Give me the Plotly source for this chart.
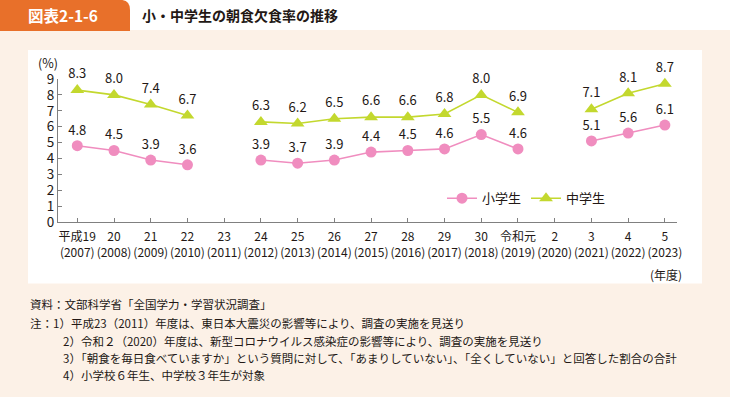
import plotly.graph_objects as go

categories = ["平成19<br>(2007)", "20<br>(2008)", "21<br>(2009)", "22<br>(2010)", "23<br>(2011)",
              "24<br>(2012)", "25<br>(2013)", "26<br>(2014)", "27<br>(2015)", "28<br>(2016)",
              "29<br>(2017)", "30<br>(2018)", "令和元<br>(2019)", "2<br>(2020)", "3<br>(2021)",
              "4<br>(2022)", "5<br>(2023)"]
elementary = [4.8, 4.5, 3.9, 3.6, None, 3.9, 3.7, 3.9, 4.4, 4.5, 4.6, 5.5, 4.6, None, 5.1, 5.6, 6.1]
junior = [8.3, 8.0, 7.4, 6.7, None, 6.3, 6.2, 6.5, 6.6, 6.6, 6.8, 8.0, 6.9, None, 7.1, 8.1, 8.7]
y_ticks = list(range(0, 10))

notes = [
    "資料：文部科学省「全国学力・学習状況調査」",
    "注：1）平成23（2011）年度は、東日本大震災の影響等により、調査の実施を見送り",
    "2）令和２（2020）年度は、新型コロナウイルス感染症の影響等により、調査の実施を見送り",
    "3）「朝食を毎日食べていますか」という質問に対して、「あまりしていない」、「全くしていない」と回答した割合の合計",
    "4）小学校６年生、中学校３年生が対象",
]

FONT = "Noto Sans CJK JP"
TXT = "#231815"
PINK = "#f08dbf"
GREEN = "#c3d82e"
ORANGE = "#e8702a"
BEIGE = "#fcf1e7"

W, H = 730, 397
L, R = 58, 677
T, B = 79, 221.7
pw, ph = R - L, B - T

def px(x):
    return (x - L) / pw

def py(y):
    return (B - y) / ph

xs = list(range(len(categories)))

def lbl(v):
    return None if v is None else f"{v:.1f}"

fig = go.Figure()
fig.add_trace(go.Scatter(
    x=xs, y=elementary, name="小学生", mode="lines+markers+text",
    text=[lbl(v) for v in elementary], textposition="top center", cliponaxis=False,
    textfont=dict(size=13, color=TXT, family=FONT),
    line=dict(color=PINK, width=1.6), connectgaps=False,
    marker=dict(symbol="circle", size=11, color=PINK),
))
fig.add_trace(go.Scatter(
    x=xs, y=junior, name="中学生", mode="lines+markers+text",
    text=[lbl(v) for v in junior], textposition="top center", cliponaxis=False,
    textfont=dict(size=13, color=TXT, family=FONT),
    line=dict(color=GREEN, width=1.6), connectgaps=False,
    marker=dict(symbol="triangle-up", size=12, color=GREEN),
))

shapes = [
    dict(type="rect", xref="paper", yref="paper", x0=px(28), x1=px(702), y0=py(283), y1=py(50),
         fillcolor="white", line=dict(width=0), layer="below"),
    dict(type="rect", xref="paper", yref="paper", x0=px(0), x1=px(730), y0=py(30), y1=py(0),
         fillcolor="white", line=dict(width=0), layer="below"),
]
rx, ry = 10 / pw, 10 / ph
x0t, x1t, y0t, y1t = px(0), px(130), py(31), py(0)
path = (f"M {x0t},{y0t} L {x0t},{y1t} L {x1t - rx},{y1t} "
        f"Q {x1t},{y1t} {x1t},{y1t - ry} L {x1t},{y0t} Z")
shapes.append(dict(type="path", xref="paper", yref="paper", path=path,
                   fillcolor=ORANGE, line=dict(width=0), layer="below"))

annotations = [
    dict(text="<b>図表2-1-6</b>", x=px(63), y=py(15), xref="paper", yref="paper",
         showarrow=False, font=dict(size=15.5, color="white", family=FONT), xanchor="center", yanchor="middle"),
    dict(text="<b>小・中学生の朝食欠食率の推移</b>", x=px(140), y=py(15), xref="paper", yref="paper",
         showarrow=False, font=dict(size=14, color=TXT, family=FONT), xanchor="left", yanchor="middle"),
    dict(text="(%)", x=px(48), y=py(63), xref="paper", yref="paper",
         showarrow=False, font=dict(size=12.5, color=TXT, family=FONT), xanchor="center", yanchor="middle"),
    dict(text="(年度)", x=px(666), y=py(274), xref="paper", yref="paper",
         showarrow=False, font=dict(size=12, color=TXT, family=FONT), xanchor="center", yanchor="middle"),
]
note_pos = [(28, 304), (28, 322), (61, 340), (61, 357), (61, 374)]
for (nx, ny), t in zip(note_pos, notes):
    annotations.append(dict(text=t, x=px(nx), y=py(ny), xref="paper", yref="paper",
                            showarrow=False, font=dict(size=11.5, color=TXT, family=FONT),
                            xanchor="left", yanchor="middle"))

fig.update_layout(
    width=W, height=H,
    margin=dict(l=L, r=W - R, t=T, b=H - B, pad=0),
    paper_bgcolor=BEIGE, plot_bgcolor="white",
    font=dict(family=FONT, color=TXT),
    showlegend=True,
    legend=dict(orientation="h", x=px(442), y=py(198), xanchor="left", yanchor="middle",
                bgcolor="rgba(0,0,0,0)", font=dict(size=13, color=TXT, family=FONT),
                itemwidth=30, traceorder="normal"),
    shapes=shapes, annotations=annotations,
    xaxis=dict(range=[-0.525, 16.33], tickvals=xs, ticktext=categories, showgrid=False,
               zeroline=False, showline=True, linecolor="#808080", linewidth=1,
               ticks="inside", ticklen=4, tickcolor="#808080", tickangle=0, automargin=False,
               ticklabelstandoff=4,
               tickfont=dict(size=12, color=TXT, family=FONT)),
    yaxis=dict(range=[0, 9], tickvals=y_ticks, showgrid=False, zeroline=False,
               showline=True, linecolor="#808080", linewidth=1, automargin=False,
               ticks="inside", ticklen=4, tickcolor="#808080",
               tickfont=dict(size=13.5, color=TXT, family=FONT)),
)

fig.write_html("out.html", config={"displayModeBar": False},
               post_script="document.body.style.margin='0';document.body.style.padding='0';")
